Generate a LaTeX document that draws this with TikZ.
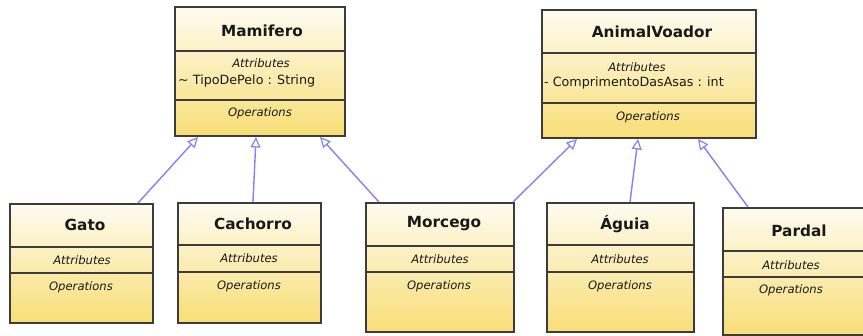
\documentclass[tikz,border=0pt]{standalone}
\usepackage{fontspec}
\setmainfont{DejaVu Sans}
\usetikzlibrary{arrows.meta,calc}
\definecolor{boxtop}{RGB}{254,251,240}
\definecolor{boxbot}{RGB}{248,222,118}
\definecolor{boxline}{RGB}{60,60,60}
\definecolor{inhcol}{RGB}{130,130,240}
\definecolor{txtcol}{RGB}{25,25,25}
\tikzset{
  classbox/.style={rectangle, draw=boxline, line width=1.4pt, inner sep=0pt, outer sep=0pt,
    anchor=north west, top color=boxtop, bottom color=boxbot, shading angle=0},
  sepline/.style={draw=boxline, line width=1.2pt},
  ctitle/.style={font=\fontsize{15.3}{18}\selectfont\bfseries, text=txtcol, inner sep=0pt},
  clabel/.style={font=\fontsize{11.6}{13}\selectfont\itshape, text=txtcol, inner sep=0pt},
  cattr/.style={font=\fontsize{12.7}{15}\selectfont, text=txtcol, inner sep=0pt, anchor=west},
  inh/.style={draw=inhcol, line width=1.4pt, -{Triangle[length=10.5pt,width=10pt,fill=white,line width=1.2pt]}}
}
\begin{document}
\begin{tikzpicture}[x=1pt,y=-1pt]
\useasboundingbox (0,0) rectangle (863,336);
\fill[white] (0,0) rectangle (863,336);
\clip (0,0) rectangle (863,336);

% Mamifero
\node[classbox, minimum width=170pt, minimum height=129pt] (mam) at (175,7) {};
\path[sepline] ($(mam.north west)+(0,44)$) -- ($(mam.north east)+(0,44)$);
\path[sepline] ($(mam.north west)+(0,93)$) -- ($(mam.north east)+(0,93)$);
\node[ctitle] (mamT) at (262,31) {Mamifero};
\node[clabel] (mamA) at (261,63) {Attributes};
\node[cattr] (mamX) at (178,81) {\textasciitilde{} TipoDePelo : String};
\node[clabel] (mamO) at (260,113) {Operations};

% AnimalVoador
\node[classbox, minimum width=214pt, minimum height=128pt] (ani) at (542,10) {};
\path[sepline] ($(ani.north west)+(0,43)$) -- ($(ani.north east)+(0,43)$);
\path[sepline] ($(ani.north west)+(0,93)$) -- ($(ani.north east)+(0,93)$);
\node[ctitle] (aniT) at (652,32) {AnimalVoador};
\node[clabel] (aniA) at (637,67) {Attributes};
\node[cattr] (aniX) at (544,83) {- ComprimentoDasAsas : int};
\node[clabel] (aniO) at (648,117) {Operations};

% Gato
\node[classbox, minimum width=143pt, minimum height=119pt] (gato) at (10,204) {};
\path[sepline] ($(gato.north west)+(0,43)$) -- ($(gato.north east)+(0,43)$);
\path[sepline] ($(gato.north west)+(0,69)$) -- ($(gato.north east)+(0,69)$);
\node[ctitle] (gatoT) at (85,225) {Gato};
\node[clabel] (gatoA) at (82,260) {Attributes};
\node[clabel] (gatoO) at (81,287) {Operations};

% Cachorro
\node[classbox, minimum width=143pt, minimum height=120pt] (cach) at (178,203) {};
\path[sepline] ($(cach.north west)+(0,42)$) -- ($(cach.north east)+(0,42)$);
\path[sepline] ($(cach.north west)+(0,69)$) -- ($(cach.north east)+(0,69)$);
\node[ctitle] (cachT) at (253,224) {Cachorro};
\node[clabel] (cachA) at (249,258) {Attributes};
\node[clabel] (cachO) at (249,286) {Operations};

% Morcego
\node[classbox, minimum width=148pt, minimum height=129pt] (morc) at (366,203) {};
\path[sepline] ($(morc.north west)+(0,43)$) -- ($(morc.north east)+(0,43)$);
\path[sepline] ($(morc.north west)+(0,69)$) -- ($(morc.north east)+(0,69)$);
\node[ctitle] (morcT) at (444,224) {Morcego};
\node[clabel] (morcA) at (440,259) {Attributes};
\node[clabel] (morcO) at (439,286) {Operations};

% Aguia
\node[classbox, minimum width=147pt, minimum height=129pt] (agui) at (547,203) {};
\path[sepline] ($(agui.north west)+(0,42)$) -- ($(agui.north east)+(0,42)$);
\path[sepline] ($(agui.north west)+(0,69)$) -- ($(agui.north east)+(0,69)$);
\node[ctitle] (aguiT) at (625,224) {Águia};
\node[clabel] (aguiA) at (620,259) {Attributes};
\node[clabel] (aguiO) at (620,286) {Operations};

% Pardal
\node[classbox, minimum width=145pt, minimum height=127pt] (pard) at (723,208) {};
\path[sepline] ($(pard.north west)+(0,43)$) -- ($(pard.north east)+(0,43)$);
\path[sepline] ($(pard.north west)+(0,69)$) -- ($(pard.north east)+(0,69)$);
\node[ctitle] (pardT) at (799,231) {Pardal};
\node[clabel] (pardA) at (791,265) {Attributes};
\node[clabel] (pardO) at (791,290) {Operations};

% Inheritance
\draw[inh] ($(gato.north west)+(128,-1)$) -- ($(mam.south west)+(23,1)$);
\draw[inh] ($(cach.north west)+(75,-1)$) -- ($(mam.south west)+(81,1)$);
\draw[inh] ($(morc.north west)+(13,-1)$) -- ($(mam.south west)+(145,1)$);
\draw[inh] ($(morc.north east)+(-1,-1)$) -- ($(ani.south west)+(35,1)$);
\draw[inh] ($(agui.north west)+(83,-1)$) -- ($(ani.south west)+(96,1)$);
\draw[inh] ($(pard.north west)+(25,-1)$) -- ($(ani.south west)+(156,1)$);
\end{tikzpicture}
\end{document}
